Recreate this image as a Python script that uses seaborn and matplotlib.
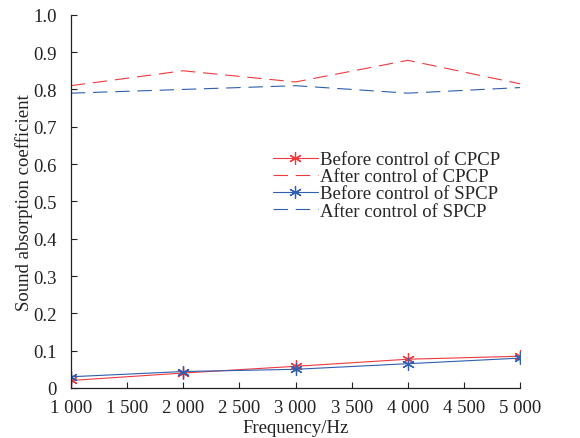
import matplotlib
matplotlib.use("Agg")
import matplotlib.pyplot as plt
import seaborn as sns
import pandas as pd
from matplotlib.ticker import FuncFormatter

sns.set_theme(style="white")
plt.rcParams['font.family'] = ['Liberation Serif', 'DejaVu Serif']

freq = [1000, 2000, 3000, 4000, 5000]
before_cpcp = [0.020, 0.040, 0.058, 0.077, 0.085]
after_cpcp = [0.810, 0.850, 0.820, 0.878, 0.815]
before_spcp = [0.030, 0.044, 0.050, 0.065, 0.080]
after_spcp = [0.790, 0.800, 0.810, 0.790, 0.805]
labels = ["Before control of CPCP", "After control of CPCP",
          "Before control of SPCP", "After control of SPCP"]

red = "#ee3a3f"
blue = "#2f5fae"

fig = plt.figure(figsize=(5.8, 4.39), dpi=100)
ax = fig.add_axes([0.122, 0.114, 0.775, 0.85])

series = [
    (before_cpcp, labels[0], red, "-", (6, 2, 0)),
    (after_cpcp, labels[1], red, (0, (13, 7)), None),
    (before_spcp, labels[2], blue, "-", (6, 2, 0)),
    (after_spcp, labels[3], blue, (0, (13, 7)), None),
]
for vals, lab, col, ls, mk in series:
    df = pd.DataFrame({"f": freq, "v": vals})
    sns.lineplot(data=df, x="f", y="v", ax=ax, color=col, linewidth=0.8,
                 linestyle=ls, marker=mk, markersize=9, markeredgewidth=0.9,
                 markeredgecolor=col, label=lab)

ax.set_xlim(1000, 5000)
ax.set_ylim(0, 1.0)
ax.set_xticks([1000, 1500, 2000, 2500, 3000, 3500, 4000, 4500, 5000])
ax.xaxis.set_major_formatter(FuncFormatter(lambda x, p: f"{int(x):,}".replace(",", " ")))
ax.set_yticks([i / 10 for i in range(11)])
ax.yaxis.set_major_formatter(FuncFormatter(lambda y, p: "0" if abs(y) < 1e-9 else f"{y:.1f}"))
ax.tick_params(direction="in", length=4, width=0.8, labelsize=13.5, colors="#222222",
               bottom=True, left=True)
ax.tick_params(axis="x", pad=8)
ax.tick_params(axis="y", pad=10)
for s in ["top", "right"]:
    ax.spines[s].set_visible(False)
for s in ["left", "bottom"]:
    ax.spines[s].set_color("#222222")
    ax.spines[s].set_linewidth(0.9)
ax.set_xlabel("Frequency/Hz", fontsize=13.5, color="#222222", labelpad=2)
ax.set_ylabel("Sound absorption coefficient", fontsize=13.5, color="#222222", labelpad=0)

leg = ax.legend(loc="upper left", bbox_to_anchor=(0.42, 0.67), frameon=False,
                fontsize=13.5, handlelength=2.4, handletextpad=0.15,
                labelspacing=0.0, borderpad=0.2)

fig.savefig("out.png", dpi=100)
